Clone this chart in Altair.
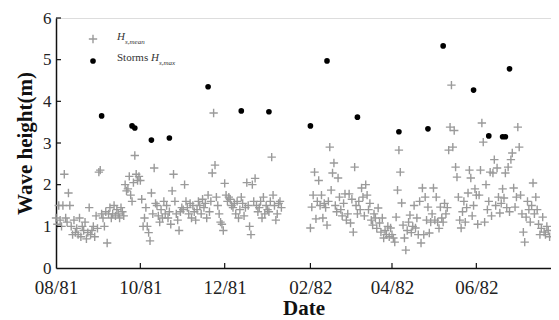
import altair as alt
import pandas as pd

# ---- data ----
month_starts = ["1981-08-01", "1981-09-01", "1981-10-01", "1981-11-01", "1981-12-01",
                "1982-01-01", "1982-02-01", "1982-03-01", "1982-04-01", "1982-05-01",
                "1982-06-01", "1982-07-01"]

aug81 = [1.2, 1.05, 1.5, 1.15, 1.0, 1.5, 2.25, 1.2, 1.1, 1.8, 1.5, 1.0, 0.8, 1.15, 0.85, 0.95,
         0.8, 1.2, 0.75, 1.0, 0.9, 1.1, 0.7, 0.85, 1.45, 0.8, 0.9, 1.0, 0.75, 1.25, 0.95]
sep81 = [2.3, 2.35, 1.3, 1.2, 1.0, 1.35, 0.6, 1.3, 1.45, 1.2, 1.3, 1.5, 1.25, 1.4, 1.3, 1.2,
         1.45, 1.35, 1.25, 2.0, 1.85, 1.9, 2.2, 1.75, 1.6, 2.05, 2.7, 2.25, 2.1, 2.2]
oct81 = [2.1, 1.65, 1.0, 1.2, 1.45, 1.0, 0.85, 0.65, 1.8, 1.3, 2.4, 1.55, 1.5, 1.25, 1.1, 1.4,
         1.2, 1.6, 1.3, 1.5, 1.2, 1.35, 1.05, 1.85, 2.25, 1.6, 1.3, 1.15, 0.9, 1.35, 1.45]
nov81 = [1.4, 2.0, 1.6, 1.45, 1.3, 1.55, 1.2, 1.5, 1.35, 1.15, 1.4, 1.6, 1.5, 1.3, 1.65, 1.45,
         1.55, 1.2, 1.75, 1.35, 1.6, 2.28, 3.72, 2.47, 1.7, 1.5, 1.3, 1.1, 1.05, 0.9]
dec81 = [2.03, 1.75, 1.6, 1.7, 1.65, 1.5, 1.45, 1.55, 1.3, 1.6, 1.2, 1.4, 1.7, 1.55, 1.25, 1.45,
         2.05, 1.5, 1.0, 0.8, 2.0, 1.6, 2.15, 1.5, 1.35, 1.45, 1.6, 1.2, 1.7, 1.3, 1.5]
jan82 = [1.4, 1.35, 1.6, 2.66, 1.75, 1.5, 1.15, 1.3, 1.55, 1.6, 1.45]
feb82 = [0.96, 1.46, 1.75, 2.3, 1.18, 1.6, 2.1, 1.5, 1.75, 1.2, 1.55, 1.45, 1.03, 1.6, 2.9, 1.87,
         2.28, 2.52, 1.5, 1.35, 2.16, 1.7, 1.4, 1.25, 1.55, 1.78, 1.15, 1.3]
mar82 = [1.78, 1.08, 1.65, 0.86, 2.42, 1.5, 1.3, 1.6, 1.4, 1.92, 1.7, 1.25, 2.0, 1.75, 1.4, 1.55,
         1.15, 1.03, 1.3, 1.2, 0.95, 1.44, 1.08, 0.86, 1.2, 0.72, 0.9, 0.8, 1.0, 0.75, 0.96]
apr82 = [0.8, 0.72, 0.62, 1.22, 1.87, 2.83, 2.3, 1.56, 1.03, 0.72, 0.43, 0.9, 1.1, 1.27, 0.85, 1.0,
         1.5, 0.96, 1.2, 0.8, 1.6, 0.6, 1.92, 0.8, 1.7, 1.15, 1.46, 0.84, 1.1, 1.3]
may82 = [1.92, 1.15, 1.7, 1.1, 0.95, 1.46, 1.2, 1.1, 1.55, 1.3, 1.45, 2.83, 3.38, 4.39, 2.9, 3.3,
         2.42, 2.18, 1.7, 1.15, 0.96, 1.35, 1.6, 1.1, 1.45, 1.8, 2.35, 2.16, 1.25, 1.5, 1.9]
jun82 = [1.75, 1.05, 1.75, 2.35, 3.48, 3.02, 1.1, 2.0, 1.4, 1.6, 2.3, 1.25, 2.28, 2.6, 1.5, 2.4,
         1.7, 1.32, 1.55, 1.9, 1.68, 2.28, 1.45, 2.42, 1.35, 2.6, 2.76, 1.92, 1.46, 1.7]
jul82 = [3.38, 2.9, 1.75, 1.3, 0.86, 0.62, 1.22, 1.6, 1.4, 1.1, 1.5, 2.04, 1.3, 1.7, 1.4, 1.05,
         0.8, 0.95, 1.22, 0.86, 0.8, 1.0, 0.9, 0.75]

storm_dates = ["1981-09-03", "1981-09-25", "1981-09-27", "1981-10-09", "1981-10-22", "1981-11-19",
               "1981-12-13", "1982-01-02", "1982-02-01", "1982-02-13", "1982-03-07", "1982-04-06",
               "1982-04-27", "1982-05-08", "1982-05-30", "1982-06-10", "1982-06-20", "1982-06-22",
               "1982-06-25"]
storm_vals = [3.65, 3.41, 3.36, 3.07, 3.12, 4.35, 3.77, 3.75, 3.41, 4.97, 3.62, 3.27,
              3.34, 5.33, 4.27, 3.17, 3.15, 3.15, 4.78]

tick_dates = ["1981-10-01", "1981-12-01", "1982-02-01", "1982-04-01", "1982-06-01"]
y_ticks = [1, 2, 3, 4, 5, 6]

# ---- build tables ----
months = [aug81, sep81, oct81, nov81, dec81, jan82, feb82, mar82, apr82, may82, jun82, jul82]
rows = []
for start, vals in zip(month_starts, months):
    d0 = pd.Timestamp(start)
    for i, v in enumerate(vals):
        rows.append({"date": d0 + pd.Timedelta(days=i), "h": v})
mean_df = pd.DataFrame(rows)
storm_df = pd.DataFrame({"date": pd.to_datetime(storm_dates), "h": storm_vals})
tick_df = pd.DataFrame({"date": pd.to_datetime(tick_dates)})
ytick_df = pd.DataFrame({"h": y_ticks})

W, H = 495, 250
FONT = "Liberation Serif"
x_dom = [pd.Timestamp("1981-08-01").isoformat(), pd.Timestamp("1982-07-25").isoformat()]
xscale = alt.Scale(domain=x_dom)
yscale = alt.Scale(domain=[0, 6])

x_axis = alt.Axis(title="Date", format="%m/%y", values=[pd.Timestamp(d).isoformat() for d in
                  ["1981-08-01"] + tick_dates], tickSize=0, labelPadding=10, grid=False,
                  labelFlush=False, labelOverlap=False,
                  labelFont=FONT, labelFontSize=19, labelColor="#222", titleFont=FONT,
                  titleFontSize=21, titleFontWeight="bold", titleColor="#111", titlePadding=0,
                  domainColor="#111", domainWidth=1.5)
y_axis = alt.Axis(title="Wave height(m)", values=[0, 1, 2, 3, 4, 5, 6], tickSize=0,
                  labelPadding=5, grid=False, labelFlush=False, labelFont=FONT, labelFontSize=17,
                  labelColor="#222", titleFont=FONT, titleFontSize=21,
                  titleFontWeight="bold", titleColor="#111", titlePadding=7,
                  domainColor="#111", domainWidth=1.5)

plus = "M-1,0L1,0M0,-1L0,1"

means = alt.Chart(mean_df).mark_point(shape=plus, filled=False, color="#9a9a9a",
                                      strokeWidth=1.4, size=70, opacity=1).encode(
    x=alt.X("date:T", scale=xscale, axis=x_axis),
    y=alt.Y("h:Q", scale=yscale, axis=y_axis),
)
storms = alt.Chart(storm_df).mark_circle(color="#000", size=32, opacity=1).encode(
    x=alt.X("date:T", scale=xscale),
    y=alt.Y("h:Q", scale=yscale),
)
xticks = alt.Chart(tick_df).mark_rule(color="#111", strokeWidth=1.2).encode(
    x=alt.X("date:T", scale=xscale), y=alt.value(H), y2=alt.value(H - 5))
yticks = alt.Chart(ytick_df).mark_rule(color="#111", strokeWidth=1.2).encode(
    y=alt.Y("h:Q", scale=yscale), x=alt.value(0), x2=alt.value(5))

# legend
leg = pd.DataFrame({"k": [0]})
leg_plus = alt.Chart(leg).mark_point(shape=plus, filled=False, color="#9a9a9a",
                                     strokeWidth=1.4, size=70, opacity=1).encode(
    x=alt.value(37), y=alt.value(21))
leg_dot = alt.Chart(leg).mark_circle(color="#000", size=32, opacity=1).encode(
    x=alt.value(37), y=alt.value(43))

def txt(s, x, y, size, style="normal"):
    return alt.Chart(pd.DataFrame({"t": [s]})).mark_text(
        font=FONT, fontSize=size, fontStyle=style, align="left", baseline="middle",
        color="#333").encode(text="t:N", x=alt.value(x), y=alt.value(y))

legend = (txt("H", 61, 19, 11, "italic") + txt("s,mean", 69, 24, 7, "italic")
          + txt("Storms", 61, 40, 11) + txt("H", 95, 40, 11, "italic")
          + txt("s,max", 103, 45, 7, "italic"))

chart = alt.layer(means, storms, xticks, yticks, leg_plus, leg_dot, legend).properties(
    width=W, height=H,
    autosize=alt.AutoSizeParams(type="none"),
    padding={"left": 48, "top": 10, "right": 0, "bottom": 50},
).configure_view(stroke=None).configure(background="white")

chart.save("out.html", embed_options={"renderer": "svg", "actions": False})
